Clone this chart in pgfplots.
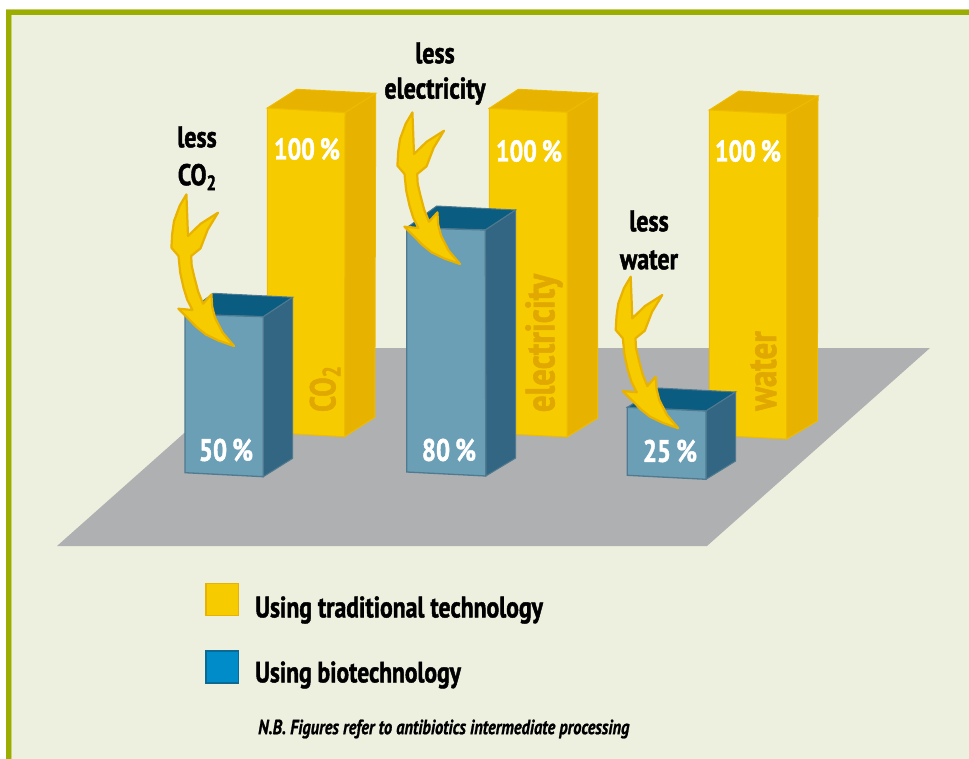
\documentclass[border=0pt]{standalone}
\usepackage{pgfplots}
\usepackage{pgfplotstable}
\usepackage{fontspec}
\pgfplotsset{compat=1.18}
\setmainfont[FakeStretch=0.8,BoldFeatures={FakeBold=1.4},BoldItalicFeatures={FakeBold=1.0}]{PT Sans}
\definecolor{bgc}{HTML}{EEF0DF}
\definecolor{brd}{HTML}{9BAD00}
\definecolor{brdl}{HTML}{C9D27A}
\definecolor{floorc}{HTML}{AFB0B2}
\definecolor{yf}{HTML}{F6CB00}
\definecolor{ys}{HTML}{E8B200}
\definecolor{yl}{HTML}{EDBC00}
\definecolor{yt}{HTML}{E0A800}
\definecolor{bf}{HTML}{6B9FB6}
\definecolor{bs}{HTML}{336683}
\definecolor{bt}{HTML}{0B5C81}
\definecolor{bl}{HTML}{4F7A90}
\definecolor{lb}{HTML}{008CC8}
\definecolor{lbl}{HTML}{0B6A94}
\pgfplotstableread{
x y
630.7 276.7
631.5 297
632.3 318.3
645 306
662.3 295
652 312
644.8 330.7
635.5 338.3
636 348
638.8 360
642.5 374
647.3 386
655.7 376.7
656.5 389
659.3 400
667 415
678.3 428.3
663 423
650 416.7
641 409.5
633.3 401.7
622.7 391
636.8 392.3
631.5 382
627.8 370
624.5 355
622.8 338.3
615.7 330
616.5 316
618.3 303.3
624 288
630.7 276.7
}\arrowtab
\newcommand{\poly}[2]{\addplot[#1] coordinates {#2} -- cycle;}
\newcommand{\lab}[4][black]{\node[text=#1,font=\fontsize{#3}{#3}\selectfont\bfseries,inner sep=0pt] at (axis cs:#2) {#4};}
\begin{document}
\begin{tikzpicture}
\begin{axis}[
  at={(0,0)}, anchor=south west,
  scale only axis, width=969pt, height=759pt,
  xmin=0, xmax=969, ymin=0, ymax=759, y dir=reverse,
  hide axis, clip=true]
% page and frame
\poly{draw=none,fill=white}{(0,0)(969,0)(969,759)(0,759)}
\poly{draw=none,fill=bgc}{(6,10)(969,10)(969,759)(6,759)}
\poly{draw=none,fill=brdl}{(6,9)(969,9)(969,10)(6,10)}
\poly{draw=none,fill=brd}{(6,10)(969,10)(969,15)(11,15)(11,759)(6,759)}
\poly{draw=none,fill=brdl}{(11,15)(12,15)(12,759)(11,759)}
% floor
\poly{draw=none,fill=floorc}{(57,546)(707,546)(930,348)(280,348)}
% traditional technology, 100 %
\poly{draw=yl,line width=1pt,fill=ys}{(267.3,108)(296.7,89.3)(375.7,93.3)(345,112.7)}
\poly{draw=yl,line width=1pt,fill=ys}{(345,112.7)(375.7,93.3)(374.8,417.3)(344.5,436.7)}
\poly{draw=yl,line width=1pt,fill=yf}{(267.3,108)(345,112.7)(344.5,436.7)(267.3,432.5)}
\poly{draw=yl,line width=1pt,fill=ys}{(489.3,108.3)(518.3,89.3)(597.7,93.3)(567,112.3)}
\poly{draw=yl,line width=1pt,fill=ys}{(567,112.3)(597.7,93.3)(597.7,418)(567,437)}
\poly{draw=yl,line width=1pt,fill=yf}{(489.3,108.3)(567,112.3)(567,437)(489.3,433)}
\poly{draw=yl,line width=1pt,fill=ys}{(709.3,110)(739,91)(818,96)(786.7,114)}
\poly{draw=yl,line width=1pt,fill=ys}{(786.7,114)(818,96)(817.3,421)(786.7,439)}
\poly{draw=yl,line width=1pt,fill=yf}{(709.3,110)(786.7,114)(786.7,439)(709.3,435)}
% biotechnology: 50, 80, 25 %
\poly{draw=bl,line width=1pt,fill=bt}{(185,314.3)(213.3,293.3)(292.7,297.3)(263.3,316.7)}
\poly{draw=bl,line width=1pt,fill=bs}{(263.3,316.7)(292.7,297.3)(292.7,458.3)(263.3,476.7)}
\poly{draw=bl,line width=1.3pt,fill=bf}{(185,314.3)(263.3,316.7)(263.3,476.7)(185,472.7)}
\poly{draw=bl,line width=1pt,fill=bt}{(406.7,227.7)(436.7,206)(515.7,210)(485.3,230)}
\poly{draw=bl,line width=1pt,fill=bs}{(485.3,230)(515.7,210)(515.7,458)(485.8,476)}
\poly{draw=bl,line width=1.3pt,fill=bf}{(406.7,227.7)(485.3,230)(485.8,476)(406.7,472)}
\poly{draw=bl,line width=1pt,fill=bt}{(627.3,407.3)(658.3,388)(735.7,392)(706,411)}
\poly{draw=bl,line width=1pt,fill=bs}{(706,411)(735.7,392)(735.7,461)(706,479.3)}
\poly{draw=bl,line width=1.3pt,fill=bf}{(627.3,407.3)(706,411)(706,479.3)(627.3,475.3)}
% arrows
\addplot[draw=ys,line width=2.2pt,fill=yf,line join=round] table[x expr=\thisrow{x}-444.3,y expr=\thisrow{y}-82.3] {\arrowtab} -- cycle;
\addplot[draw=ys,line width=2.2pt,fill=yf,line join=round] table[x expr=\thisrow{x}-218.3,y expr=\thisrow{y}-164.3] {\arrowtab} -- cycle;
\addplot[draw=ys,line width=2.2pt,fill=yf,line join=round] table[x=x,y=y] {\arrowtab} -- cycle;
% legend swatches
\poly{draw=ys,line width=1.5pt,fill=yf}{(206,583.5)(238.5,583.5)(238.5,615.5)(206,615.5)}
\poly{draw=lbl,line width=1.5pt,fill=lb}{(206,650.8)(238.5,650.8)(238.5,682.8)(206,682.8)}
% labels
\lab{197,137}{30}{less}
\node[font=\fontsize{30}{30}\selectfont\bfseries,inner sep=0pt] at (axis cs:197,177) {CO\raisebox{-5pt}{\fontsize{21}{21}\selectfont 2}};
\lab{435,53}{30}{less}
\lab{435,91}{30}{electricity}
\lab{649,221}{30}{less}
\lab{649,260}{30}{water}
\lab[white]{307,149}{30}{100\,\%}
\lab[white]{529,151}{30}{100\,\%}
\lab[white]{748,151}{30}{100\,\%}
\lab[white]{226,450}{31}{50\,\%}
\lab[white]{449,450}{31}{80\,\%}
\lab[white]{670,451}{31}{25\,\%}
\node[rotate=90,text=yt,font=\fontsize{36}{36}\selectfont\bfseries,inner sep=0pt] at (axis cs:325,389) {CO\raisebox{-5pt}{\fontsize{25}{25}\selectfont 2}};
\node[rotate=90,text=yt,font=\fontsize{41}{41}\selectfont\bfseries,inner sep=0pt] at (axis cs:544,343) {electricity};
\node[rotate=90,text=yt,font=\fontsize{41}{41}\selectfont\bfseries,inner sep=0pt] at (axis cs:763.5,371) {water};
\node[anchor=west,font=\fontsize{29.6}{30}\selectfont\bfseries,inner sep=0pt] at (axis cs:255,610) {Using traditional technology};
\node[anchor=west,font=\fontsize{29.4}{30}\selectfont\bfseries,inner sep=0pt] at (axis cs:255,675) {Using biotechnology};
\node[anchor=west,font=\fontsize{20.5}{21}\selectfont\bfseries\itshape,inner sep=0pt] at (axis cs:258,729) {N.B. Figures refer to antibiotics intermediate processing};
\end{axis}
\end{tikzpicture}
\end{document}
